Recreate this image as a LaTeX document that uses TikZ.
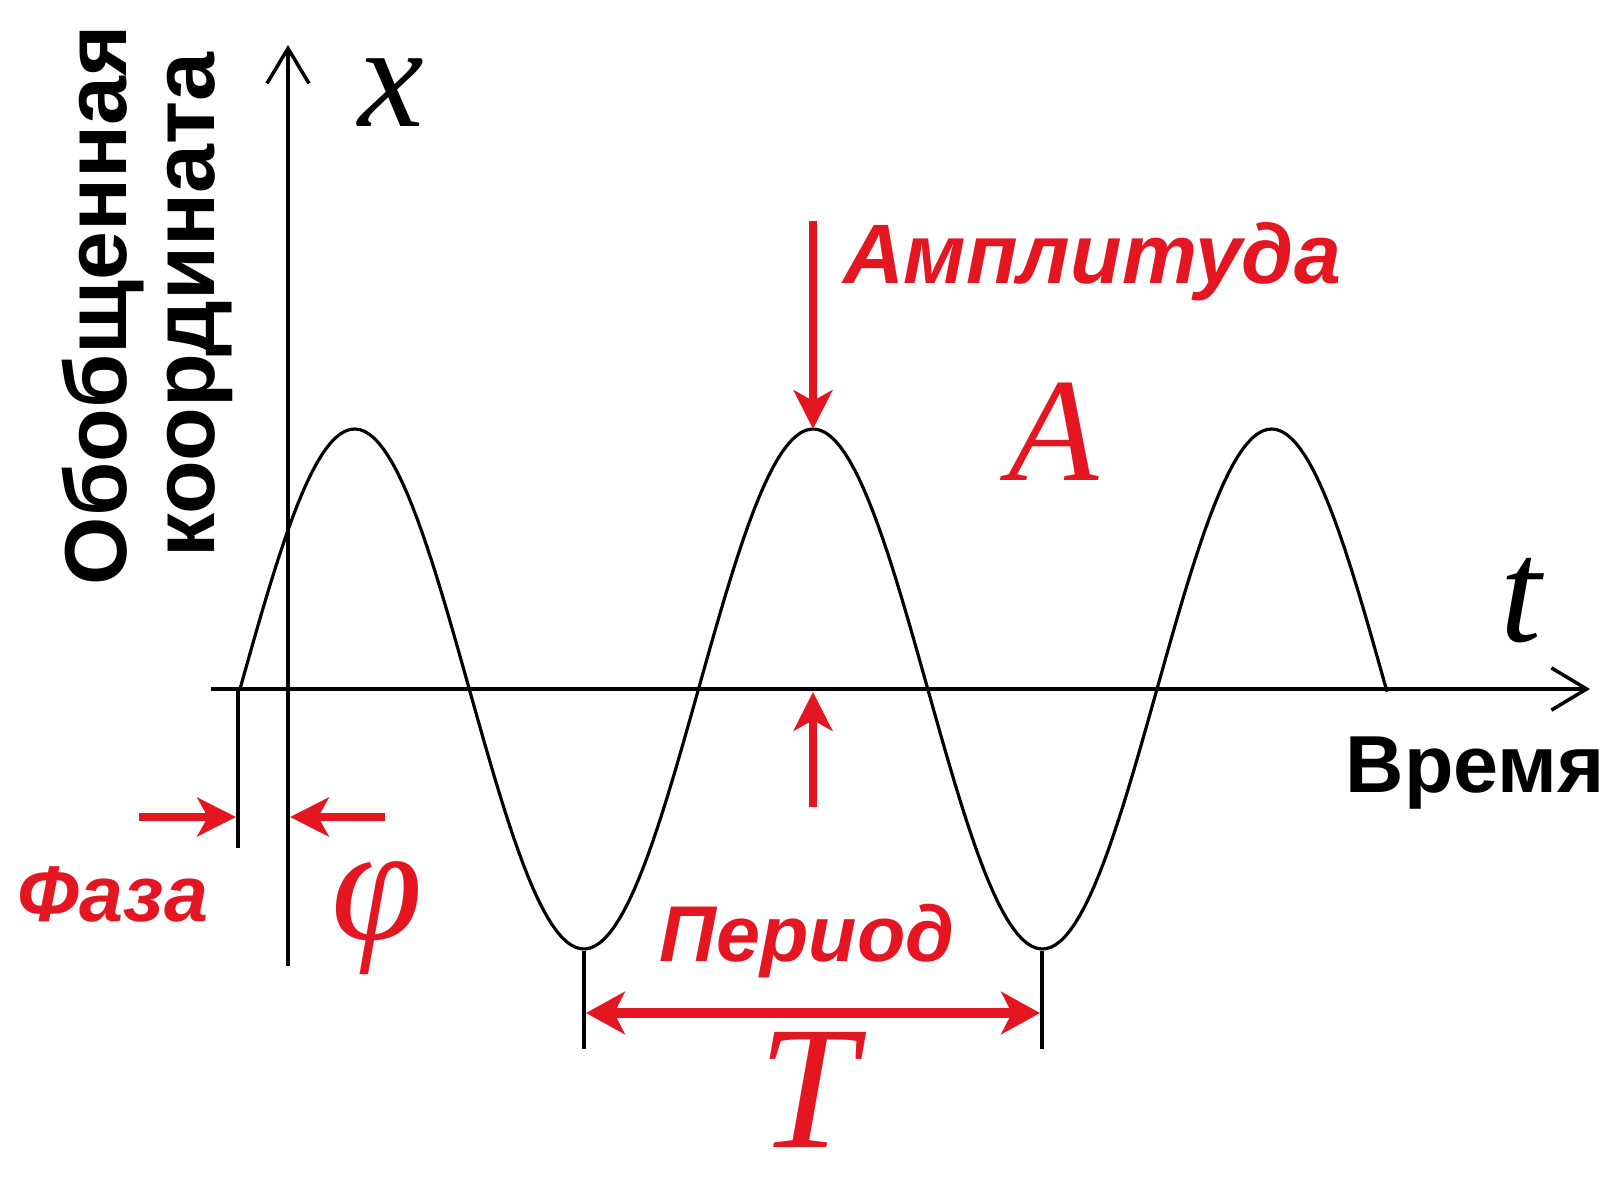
\documentclass[tikz,border=0pt]{standalone}
\usepackage{fontspec}
\setmainfont{Liberation Sans}
\newfontfamily\serifit{Liberation Serif}
\usepackage{xcolor}
\usetikzlibrary{arrows.meta, positioning, calc}
\definecolor{markred}{RGB}{228,22,34}

\begin{document}
\begin{tikzpicture}[
  x=0.01cm, y=-0.01cm,
  axis/.style={line width=1.3pt, black, -{Straight Barb[length=10pt, width=12pt, line width=1pt]}},
  guide/.style={line width=1.2pt, black},
  wave/.style={line width=0.9pt, black},
  redarr/.style={-{Stealth[length=11pt, width=11pt, inset=3pt]}, line width=2.5pt, markred},
  dimarr/.style={{Stealth[length=11pt, width=12pt, inset=3pt]}-{Stealth[length=11pt, width=12pt, inset=3pt]}, line width=3pt, markred},
  lbl/.style={inner sep=0pt, font={\bfseries\fontsize{23}{25}\selectfont}},
  redlbl/.style={inner sep=0pt, text=markred, font={\bfseries\itshape\fontsize{22.5}{25}\selectfont}},
  sym/.style={inner sep=0pt, font={\serifit\itshape\fontsize{42}{44}\selectfont}}
]
\useasboundingbox (0,0) rectangle (1612,1195);
%% Axes
\coordinate (yb) at (288,966);
\coordinate (yt) at (288,45);
\coordinate (xl) at (211,689);
\coordinate (xr) at (1590,689);
\draw[axis] (yb) -- (yt);
\draw[axis] (xl) -- (xr);
%% Oscillation
\draw[wave] plot[domain=240:1387, samples=240] (\x, {689 - 260*sin((\x-240)/458.5*360)});
%% Key points
\coordinate (pk) at (813,429);
\coordinate (pkf) at (813,221);
\coordinate (ax) at (813,692);
\coordinate (axf) at (813,807);
\coordinate (ph0) at (238,689);
\coordinate (ph1) at (238,848);
\coordinate (tr1) at (584,951);
\coordinate (tr1b) at (584,1049);
\coordinate (tr2) at (1042,951);
\coordinate (tr2b) at (1042,1049);
%% Guide lines
\draw[guide] (ph0) -- (ph1);
\draw[guide] (tr1) -- (tr1b);
\draw[guide] (tr2) -- (tr2b);
%% Red markers
\draw[redarr] (pkf) -- (pk);
\draw[redarr] (axf) -- (ax);
\coordinate (phl) at (139,817);
\coordinate (phlt) at (236,817);
\coordinate (phr) at (385,817);
\coordinate (phrt) at (290,817);
\draw[redarr] (phl) -- (phlt);
\draw[redarr] (phr) -- (phrt);
\coordinate (dl) at (586,1013);
\coordinate (dr) at (1040,1013);
\draw[dimarr] (dl) -- (dr);
%% Labels
\node[sym] (xlab) at (391,93) {x};
\node[sym] (tlab) at (1521,601) {t};
\node[lbl] (time) at (1475,773) {Время};
\node[lbl, rotate=90, align=center, font={\bfseries\fontsize{25}{25}\selectfont}] (coord) at (147,305) {Обобщенная\\координата};
\node[redlbl, font={\bfseries\itshape\fontsize{24}{26}\selectfont}] (amp) at (1092,262) {Амплитуда};
\node[sym, text=markred] (alab) at (1054,432) {A};
\node[redlbl] (phase) at (113,894) {Фаза};
\node[sym, text=markred, font={\serifit\itshape\fontsize{47}{49}\selectfont}] (philab) at (377,918) {φ};
\node[redlbl] (period) at (807,941) {Период};
\node[sym, text=markred, font={\serifit\itshape\fontsize{50}{53}\selectfont}] (Tlab) at (807,1090) {T};
\end{tikzpicture}
\end{document}
